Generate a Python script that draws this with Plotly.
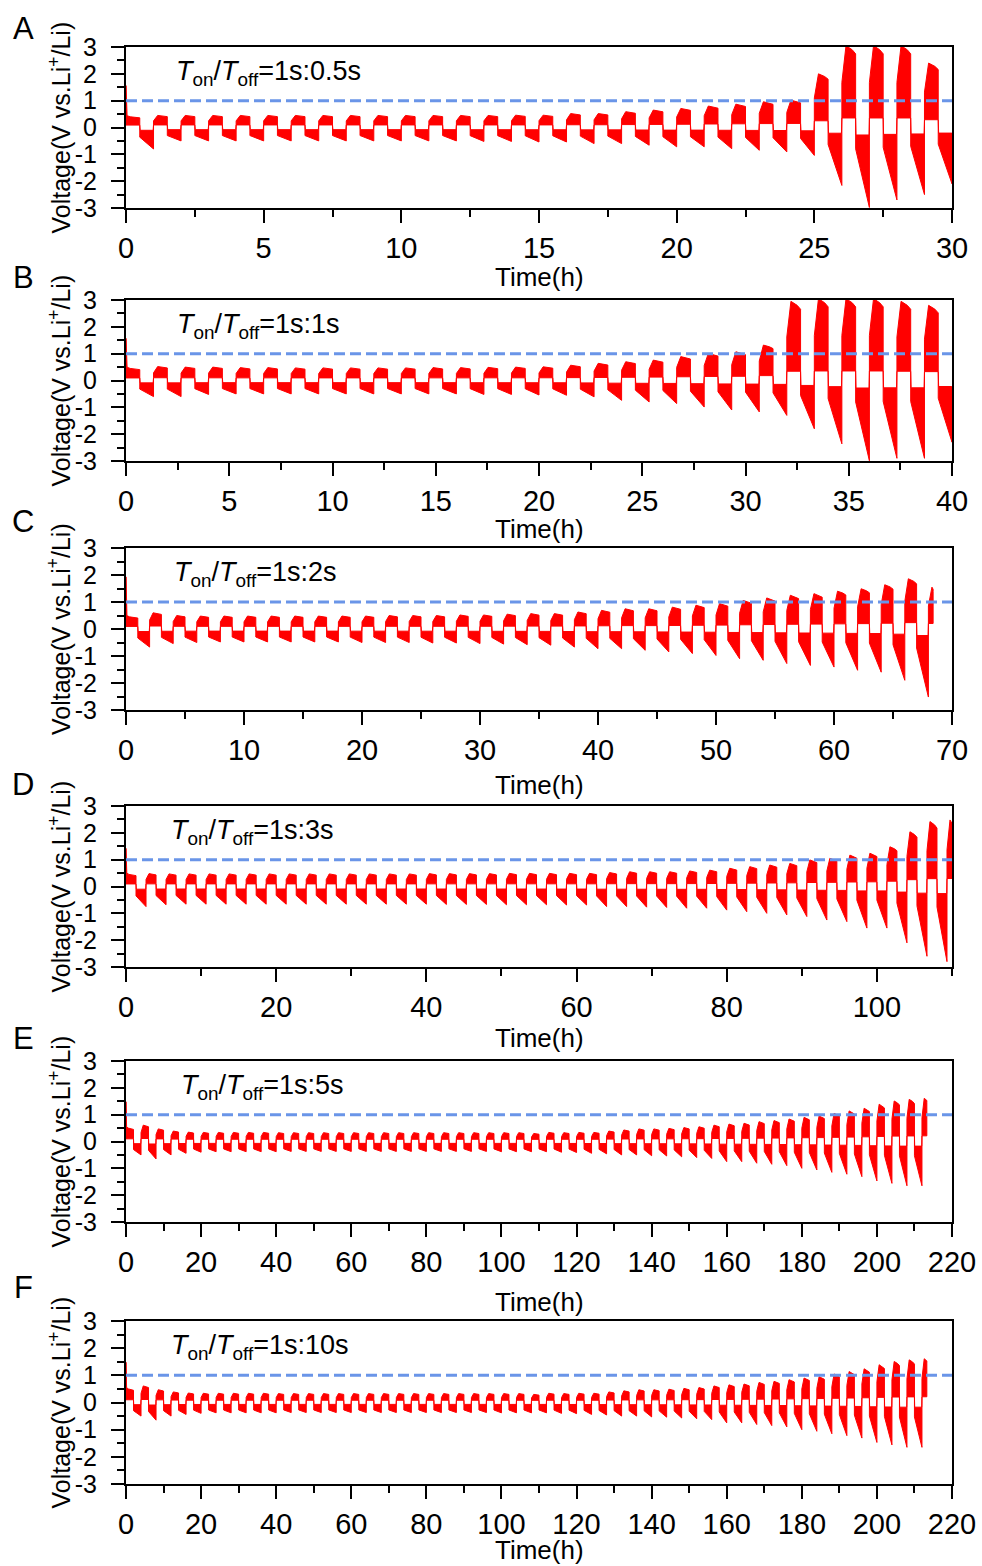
import numpy as np
import plotly.graph_objects as go

# ---------------- data ----------------
PANEL_LABELS = ["A", "B", "C", "D", "E", "F"]
PULSE_TEXT = ["1s:0.5s", "1s:1s", "1s:2s", "1s:3s", "1s:5s", "1s:10s"]
X_MAX = [30, 40, 70, 110, 220, 220]
X_DTICK = [5, 5, 10, 20, 20, 20]
CYCLE_HOURS = [1.0, 4 / 3, 2.0, 8 / 3, 4.0, 4.0]
END_HOURS = [30.0, 40.0, 68.4, 110.0, 213.3, 213.3]
FIRST_SPIKE_V = [1.56, 1.57, 1.93, 1.42, 1.48, 1.48]
Y_TICKS = [-3, -2, -1, 0, 1, 2, 3]
Y_TICKTEXT = ["-3", "-2", "-1", "0", "1", "2", "3"]
LIMIT_V = 1.0

# per-cycle stripping peak (V) and plating trough (V)
A_POS = [0.40, 0.45, 0.45, 0.45, 0.45, 0.45, 0.45, 0.45, 0.45, 0.45, 0.45, 0.45, 0.45, 0.45, 0.46,
         0.46, 0.52, 0.52, 0.59, 0.65, 0.71, 0.80, 0.87, 0.96, 1.02, 2.00, 3.05, 3.05, 3.05, 2.40]
A_NEG = [-0.80, -0.50, -0.50, -0.50, -0.50, -0.50, -0.50, -0.50, -0.50, -0.50, -0.50, -0.50, -0.52, -0.52, -0.54,
         -0.54, -0.60, -0.60, -0.66, -0.72, -0.72, -0.79, -0.85, -0.91, -1.04, -2.16, -2.98, -2.70, -2.50, -2.10]

B_POS = [0.45, 0.52, 0.50, 0.50, 0.48, 0.48, 0.47, 0.47, 0.47, 0.47, 0.47, 0.48, 0.48, 0.49, 0.50,
         0.51, 0.57, 0.64, 0.70, 0.76, 0.89, 1.01, 1.07, 1.32, 2.95, 3.05, 3.05, 3.05, 2.95, 2.80]
B_NEG = [-0.60, -0.60, -0.52, -0.50, -0.50, -0.50, -0.50, -0.50, -0.50, -0.50, -0.50, -0.50, -0.52, -0.52, -0.54,
         -0.55, -0.61, -0.74, -0.80, -0.86, -0.99, -1.10, -1.17, -1.30, -1.80, -2.36, -2.99, -2.90, -2.90, -2.30]

C_POS = [0.45, 0.60, 0.50, 0.48, 0.48, 0.48, 0.48, 0.48, 0.48, 0.48, 0.48, 0.50, 0.50, 0.50, 0.52, 0.52, 0.55,
         0.57, 0.57, 0.63, 0.69, 0.75, 0.75, 0.81, 0.88, 0.94, 1.06, 1.15, 1.25, 1.31, 1.40, 1.49, 1.64, 1.86, 1.55]
C_NEG = [-0.67, -0.54, -0.50, -0.48, -0.48, -0.48, -0.48, -0.48, -0.48, -0.50, -0.50, -0.50, -0.52, -0.52, -0.54,
         -0.56, -0.58, -0.60, -0.67, -0.73, -0.73, -0.79, -0.85, -0.91, -0.98, -1.10, -1.16, -1.28, -1.35, -1.41,
         -1.53, -1.60, -1.90, -2.52, -0.30]

D_POS = [0.45, 0.48, 0.47, 0.47, 0.47, 0.47, 0.47, 0.47, 0.47, 0.47, 0.47, 0.47, 0.47, 0.47, 0.47, 0.48, 0.48,
         0.48, 0.48, 0.49, 0.49, 0.49, 0.49, 0.49, 0.52, 0.55, 0.55, 0.55, 0.58, 0.61, 0.68, 0.74, 0.80, 0.86,
         0.99, 1.05, 1.17, 1.24, 1.48, 2.04, 2.42, 2.48]
D_NEG = [-0.75, -0.68, -0.66, -0.66, -0.66, -0.66, -0.66, -0.66, -0.66, -0.66, -0.66, -0.66, -0.66, -0.66, -0.66,
         -0.67, -0.67, -0.67, -0.68, -0.68, -0.68, -0.69, -0.69, -0.75, -0.75, -0.77, -0.78, -0.81, -0.81, -0.88,
         -0.94, -1.00, -1.06, -1.12, -1.25, -1.31, -1.55, -1.55, -2.10, -2.60, -2.80, -1.00]

E_POS = [0.50, 0.61, 0.47, 0.39, 0.35, 0.34, 0.34, 0.34, 0.34, 0.34, 0.33, 0.33, 0.33, 0.33, 0.33, 0.33, 0.33,
         0.33, 0.33, 0.33, 0.33, 0.33, 0.33, 0.33, 0.33, 0.33, 0.33, 0.30, 0.34, 0.33, 0.34, 0.34, 0.39, 0.43,
         0.47, 0.47, 0.49, 0.52, 0.55, 0.61, 0.65, 0.68, 0.74, 0.78, 0.84, 0.90, 0.95, 1.05, 1.14, 1.24, 1.39,
         1.51, 1.57, 1.61]
E_NEG = [-0.50, -0.65, -0.50, -0.44, -0.40, -0.38, -0.38, -0.38, -0.38, -0.38, -0.37, -0.37, -0.37, -0.37, -0.37,
         -0.37, -0.37, -0.37, -0.37, -0.37, -0.37, -0.37, -0.37, -0.37, -0.38, -0.38, -0.38, -0.38, -0.40, -0.41,
         -0.44, -0.46, -0.50, -0.50, -0.53, -0.54, -0.57, -0.60, -0.63, -0.75, -0.75, -0.81, -0.85, -0.90, -1.00,
         -1.06, -1.15, -1.22, -1.31, -1.47, -1.56, -1.65, -1.65, -0.30]

F_POS = [0.50, 0.61, 0.47, 0.39, 0.35, 0.34, 0.34, 0.34, 0.34, 0.34, 0.33, 0.33, 0.33, 0.33, 0.33, 0.33, 0.33,
         0.33, 0.33, 0.33, 0.33, 0.33, 0.33, 0.33, 0.33, 0.33, 0.33, 0.30, 0.34, 0.33, 0.34, 0.34, 0.39, 0.43,
         0.47, 0.47, 0.49, 0.52, 0.55, 0.61, 0.65, 0.68, 0.74, 0.78, 0.84, 0.90, 0.95, 1.05, 1.14, 1.24, 1.39,
         1.51, 1.57, 1.61]
F_NEG = [-0.50, -0.65, -0.50, -0.44, -0.40, -0.38, -0.38, -0.38, -0.38, -0.38, -0.37, -0.37, -0.37, -0.37, -0.37,
         -0.37, -0.37, -0.37, -0.37, -0.37, -0.37, -0.37, -0.37, -0.37, -0.38, -0.38, -0.38, -0.38, -0.40, -0.41,
         -0.44, -0.46, -0.50, -0.50, -0.53, -0.54, -0.57, -0.60, -0.63, -0.75, -0.75, -0.81, -0.85, -0.90, -1.00,
         -1.06, -1.15, -1.22, -1.31, -1.47, -1.56, -1.65, -1.65, -0.30]

POS_SERIES = [A_POS, B_POS, C_POS, D_POS, E_POS, F_POS]
NEG_SERIES = [A_NEG, B_NEG, C_NEG, D_NEG, E_NEG, F_NEG]

# ---------------- layout / style constants ----------------
W, H = 982, 1566
M_L, M_R = 126, 30
PLOT_TOP_PX = [47, 300, 548, 806, 1061, 1321]
PLOT_BOT_PX = [208, 461, 710, 967, 1222, 1484]
LETTER_Y_PX = [29, 278, 522, 784, 1038, 1287]
XTITLE_Y_PX = [277, 529, 785, 1038, 1302, 1550]
PULSE_X_PX = [174, 175, 172, 169, 179, 169]
FONT = "Liberation Sans, Arial, sans-serif"
RED = "#FF0000"
BLUE = "#6A95E8"


def py(px):
    return 1 - px / H


def pxx(px):
    return (px - M_L) / (W - M_L - M_R)


def band_polygons(pos, neg, period, end, spike):
    """Build the filled band of each half cycle from the per-cycle extremes."""
    xs, ys = [], []
    h = period / 2
    eps = 0.03 * h
    n = len(pos)
    for k in range(n):
        pk, tr = pos[k], neg[k]
        t0 = k * period
        if t0 >= end:
            break
        ip = 0.05 + 0.1 * pk
        iN = 0.08 * tr - 0.04
        ip_next = 0.05 + 0.1 * pos[k + 1] if k + 1 < n else iN
        # stripping half (positive)
        if k == 0:
            px_ = [t0, t0, t0 + 0.08 * h, t0 + 0.3 * h, t0 + h, t0 + h, t0]
            py_ = [ip, spike, 1.1 * pk, pk, 0.9 * pk, ip, ip]
        else:
            px_ = [t0, t0, t0 + 0.3 * h, t0 + 0.75 * h, t0 + h, t0 + h, t0]
            py_ = [ip, 0.55 * pk, pk, 0.95 * pk, 0.9 * pk, ip, ip]
        xs += list(np.minimum(px_, end)) + [None]
        ys += py_ + [None]
        if t0 + h >= end:
            continue
        # plating half (negative)
        nx = [t0 + h, t0 + h + eps, t0 + period - eps, t0 + period, t0 + period, t0 + h, t0 + h]
        ny = [ip, iN, iN, ip_next, tr, 0.2 * tr - 0.2, ip]
        xs += list(np.minimum(nx, end)) + [None]
        ys += ny + [None]
    return xs, ys


fig = go.Figure()
layout = dict(width=W, height=H, autosize=False, margin=dict(l=M_L, r=M_R, t=0, b=0, pad=0),
              paper_bgcolor="white", plot_bgcolor="white", showlegend=False,
              font=dict(family=FONT, color="black"))
annotations, shapes = [], []

for i in range(6):
    sfx = "" if i == 0 else str(i + 1)
    xa, ya = "x" + sfx, "y" + sfx
    xs, ys = band_polygons(POS_SERIES[i], NEG_SERIES[i], CYCLE_HOURS[i], END_HOURS[i], FIRST_SPIKE_V[i])
    fig.add_trace(go.Scatter(x=xs, y=ys, xaxis=xa, yaxis=ya, mode="lines", fill="toself",
                             fillcolor=RED, line=dict(color=RED, width=1), hoverinfo="skip"))
    layout["xaxis" + sfx] = dict(
        domain=[0, 1], anchor=ya, range=[0, X_MAX[i]], tick0=0, dtick=X_DTICK[i], automargin=False,
        showline=True, linewidth=2, linecolor="black", mirror=True, showgrid=False, zeroline=False,
        ticks="outside", ticklen=13, tickwidth=2, tickcolor="black",
        tickfont=dict(family=FONT, size=29, color="black"), ticklabelstandoff=0,
        minor=dict(ticks="outside", ticklen=7, tickwidth=2, tickcolor="black", dtick=X_DTICK[i] / 2, tick0=0),
    )
    layout["yaxis" + sfx] = dict(
        domain=[py(PLOT_BOT_PX[i]), py(PLOT_TOP_PX[i])], anchor=xa, range=[-3, 3], automargin=False,
        tickmode="array", tickvals=Y_TICKS, ticktext=Y_TICKTEXT,
        showline=True, linewidth=2, linecolor="black", mirror=True, showgrid=False, zeroline=False,
        ticks="outside", ticklen=13, tickwidth=2, tickcolor="black",
        tickfont=dict(family=FONT, size=25, color="black"), ticklabelstandoff=9,
        minor=dict(ticks="outside", ticklen=7, tickwidth=2, tickcolor="black", dtick=0.5, tick0=0),
    )
    shapes.append(dict(type="line", xref=xa + " domain", yref=ya, x0=0, x1=1, y0=LIMIT_V, y1=LIMIT_V,
                       line=dict(color=BLUE, width=3, dash="11px,5px"), layer="above"))
    mid = (PLOT_TOP_PX[i] + PLOT_BOT_PX[i]) / 2
    annotations += [
        dict(text=PANEL_LABELS[i], xref="paper", yref="paper", x=pxx(23), y=py(LETTER_Y_PX[i]),
             xanchor="center", yanchor="middle", showarrow=False, font=dict(size=31)),
        dict(text="Time(h)", xref="paper", yref="paper", x=0.5, y=py(XTITLE_Y_PX[i]),
             xanchor="center", yanchor="middle", showarrow=False, font=dict(size=26)),
        dict(text="Voltage(V vs.Li<sup>+</sup>/Li)", xref="paper", yref="paper", x=pxx(59), y=py(mid),
             xanchor="center", yanchor="middle", textangle=-90, showarrow=False, font=dict(size=25)),
        dict(text="<i>T</i><sub>on</sub>/<i>T</i><sub>off</sub>=" + PULSE_TEXT[i], xref="paper", yref="paper",
             x=pxx(PULSE_X_PX[i]), y=py(PLOT_TOP_PX[i] + 26), xanchor="left", yanchor="middle",
             showarrow=False, font=dict(size=27)),
    ]

layout["annotations"] = annotations
layout["shapes"] = shapes
fig.update_layout(**layout)
fig.write_html("out.html", config={"displayModeBar": False},
               post_script="document.body.style.margin='0px';document.body.style.padding='0px';")
